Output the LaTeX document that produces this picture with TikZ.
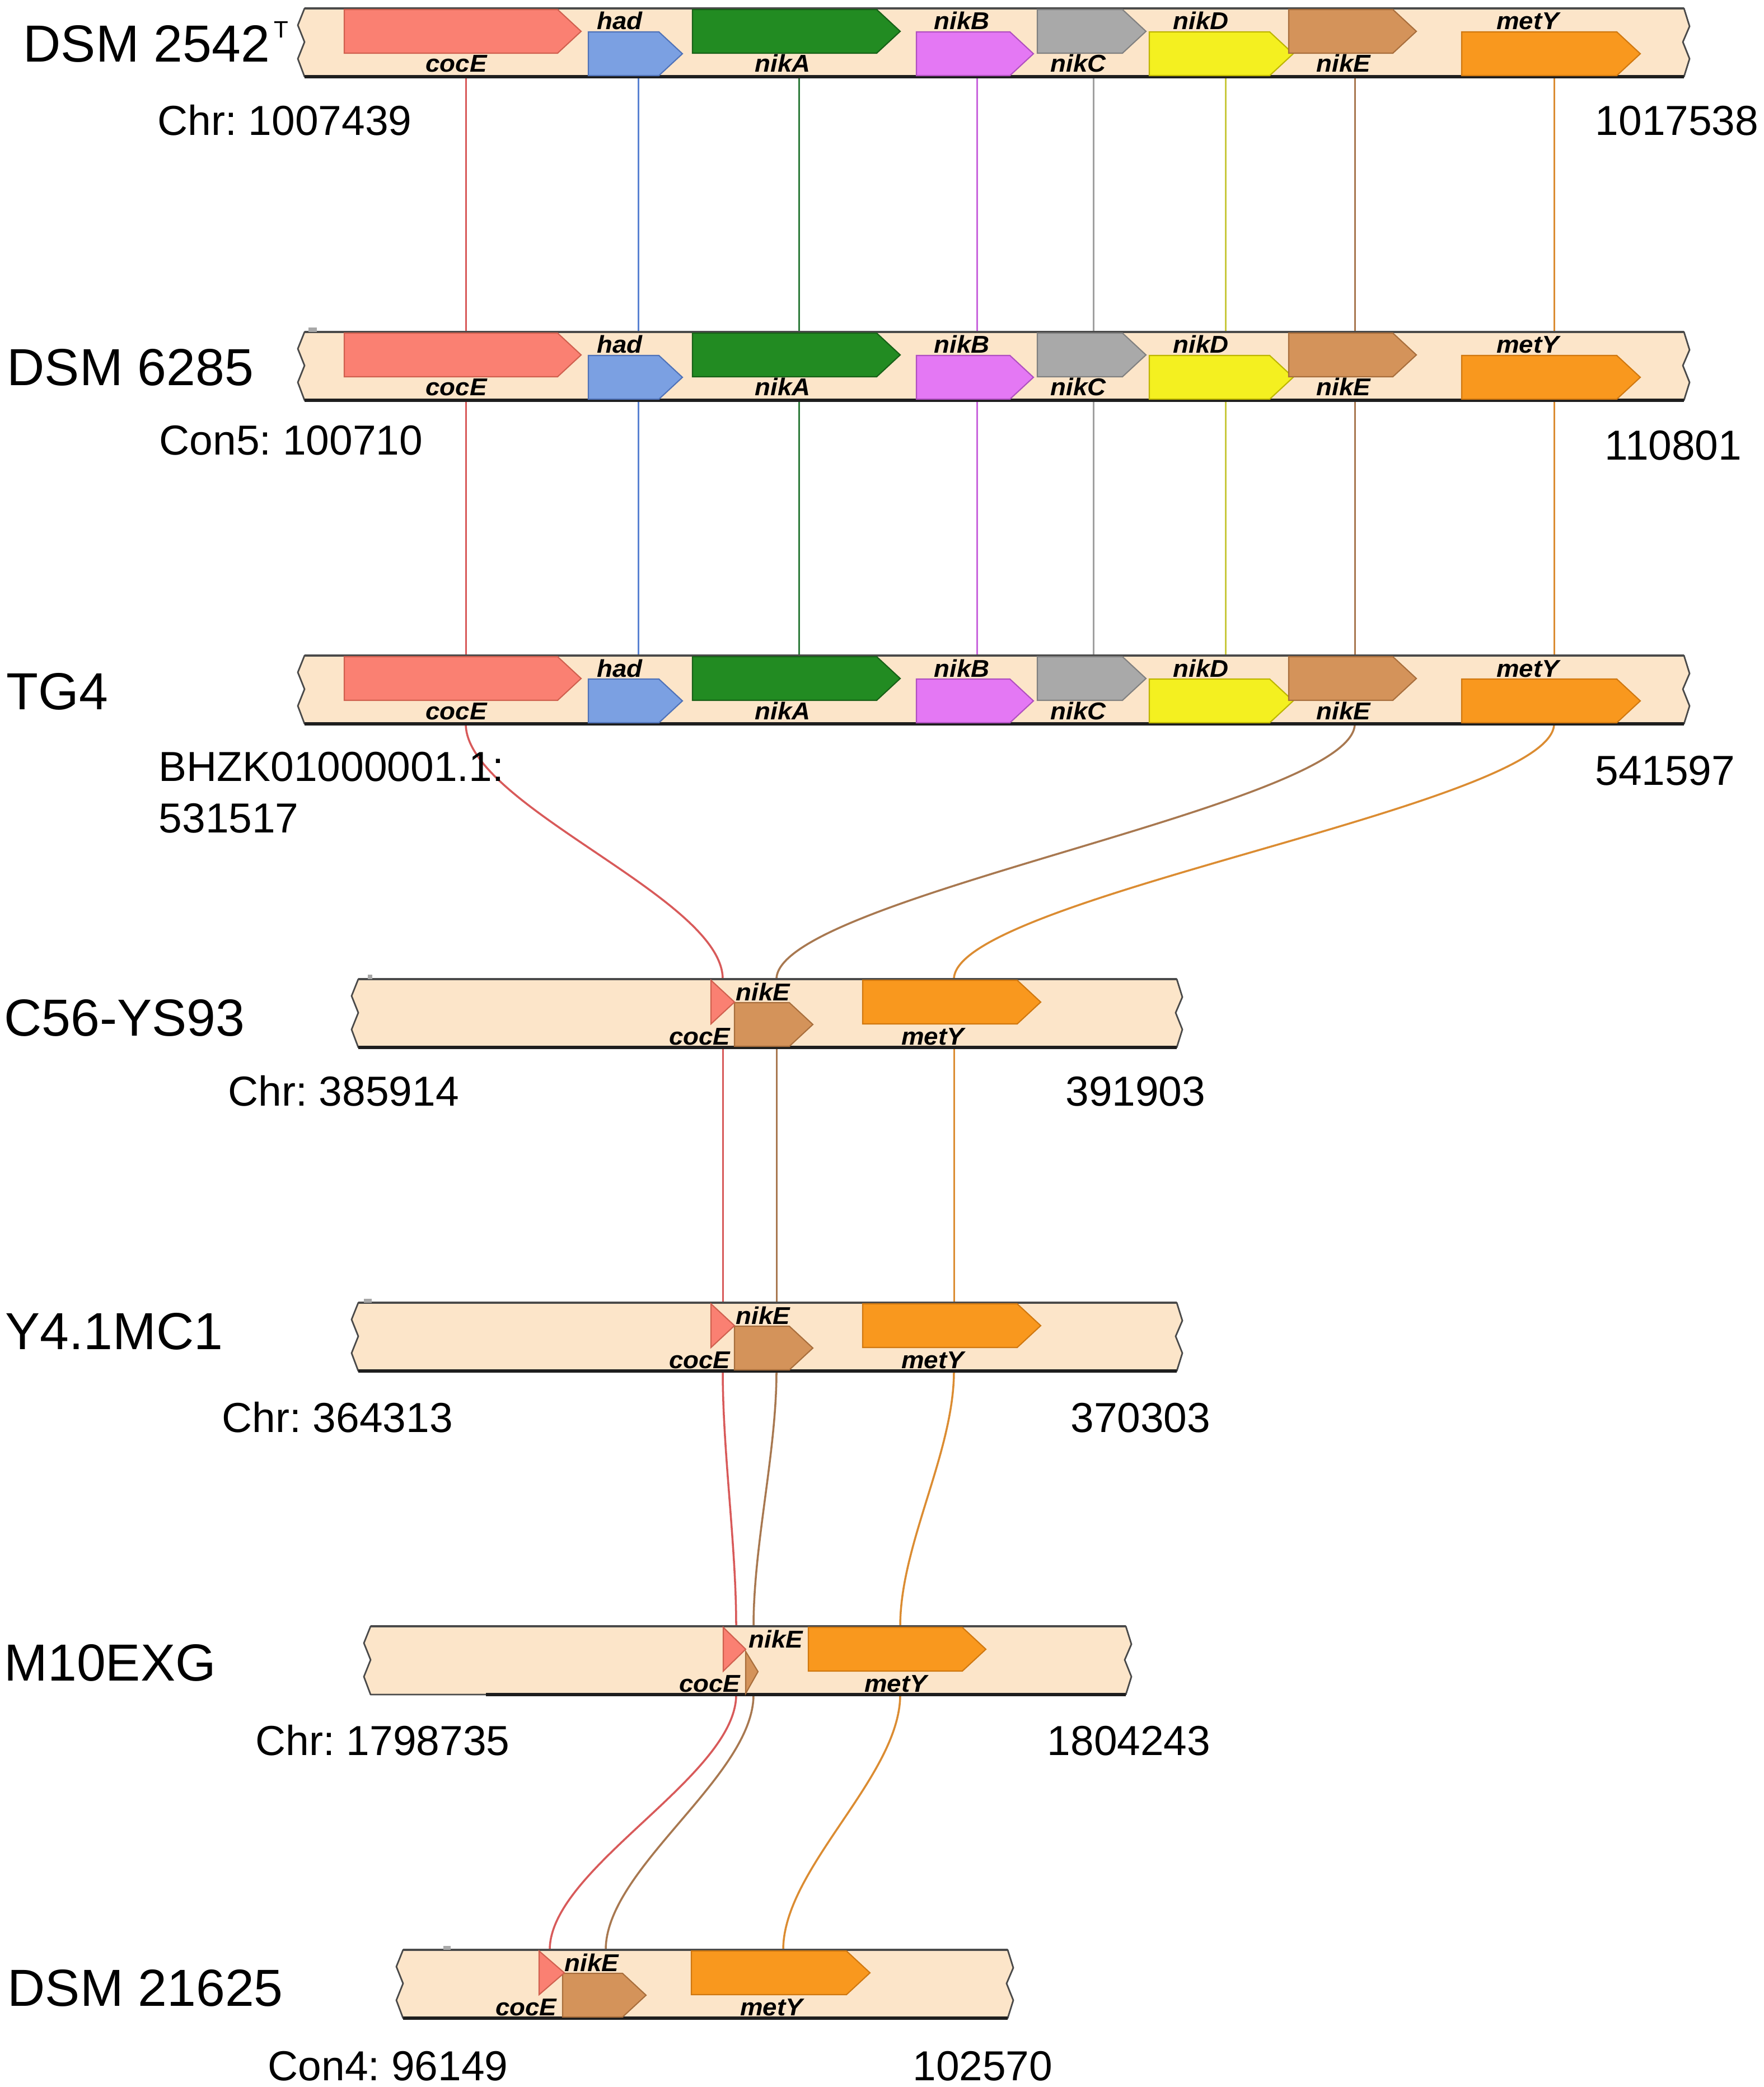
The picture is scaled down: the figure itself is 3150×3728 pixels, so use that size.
\documentclass[tikz,border=0pt]{standalone}
\usepackage{fontspec}
\setmainfont{Liberation Sans}
\usepackage{graphicx}
\frenchspacing
\definecolor{barc}{HTML}{FCE5C9}
\definecolor{bared}{HTML}{4A4A4A}
\definecolor{barbot}{HTML}{1E1E1E}
\definecolor{tickc}{HTML}{A8A8A8}
\definecolor{fcocE}{HTML}{FA8072}\definecolor{dcocE}{HTML}{D0604F}\definecolor{lcocE}{HTML}{D85A5A}
\definecolor{fhad}{HTML}{7BA0E2}\definecolor{dhad}{HTML}{4F72B8}\definecolor{lhad}{HTML}{5A82D2}
\definecolor{fnikA}{HTML}{228B22}\definecolor{dnikA}{HTML}{176017}\definecolor{lnikA}{HTML}{2D7A3A}
\definecolor{fnikB}{HTML}{E478F4}\definecolor{dnikB}{HTML}{B050C0}\definecolor{lnikB}{HTML}{C864DC}
\definecolor{fnikC}{HTML}{A9A9A9}\definecolor{dnikC}{HTML}{808080}\definecolor{lnikC}{HTML}{A0A0A0}
\definecolor{fnikD}{HTML}{F4F020}\definecolor{dnikD}{HTML}{BDB500}\definecolor{lnikD}{HTML}{C8C83C}
\definecolor{fnikE}{HTML}{D4935A}\definecolor{dnikE}{HTML}{A86E3C}\definecolor{lnikE}{HTML}{A87850}
\definecolor{fmetY}{HTML}{F9981E}\definecolor{dmetY}{HTML}{D07810}\definecolor{lmetY}{HTML}{DB8C32}
\newcommand{\gl}[1]{\scalebox{1}[0.95]{#1}}
% bar: L, R, top, start of thick bottom line
\newcommand{\trackbar}[4]{%
  \draw[fill=barc, draw=bared, line width=0.8pt, line join=round]
    (#1,#3) -- (#2,#3) -- (#2+10,#3+32) -- (#2-2,#3+60) -- (#2+10,#3+90) -- (#2,#3+122)
    -- (#1,#3+122) -- (#1-12,#3+90) -- (#1,#3+60) -- (#1-12,#3+30) -- cycle;
  \draw[line width=1.1pt, bared] (#1,#3) -- (#2,#3);
  \draw[line width=1.7pt, barbot] (#4,#3+122) -- (#2,#3+122);}
% upper-lane gene: x1, x2, top, style
\newcommand{\geneU}[4]{\draw[#4] (#1,#3+2) -- (#2-42,#3+2) -- (#2,#3+41) -- (#2-42,#3+80) -- (#1,#3+80) -- cycle;}
\newcommand{\geneL}[4]{\draw[#4] (#1,#3+42) -- (#2-42,#3+42) -- (#2,#3+81) -- (#2-42,#3+120) -- (#1,#3+120) -- cycle;}
\newcommand{\triU}[4]{\draw[#4] (#1,#3+2) -- (#2,#3+41) -- (#1,#3+80) -- cycle;}
\begin{document}
\begin{tikzpicture}[x=0.01cm, y=-0.01cm,
  gcocE/.style={fill=fcocE, draw=dcocE, line width=0.6pt},
  ghad/.style={fill=fhad, draw=dhad, line width=0.6pt},
  gnikA/.style={fill=fnikA, draw=dnikA, line width=0.6pt},
  gnikB/.style={fill=fnikB, draw=dnikB, line width=0.6pt},
  gnikC/.style={fill=fnikC, draw=dnikC, line width=0.6pt},
  gnikD/.style={fill=fnikD, draw=dnikD, line width=0.6pt},
  gnikE/.style={fill=fnikE, draw=dnikE, line width=0.6pt},
  gmetY/.style={fill=fmetY, draw=dmetY, line width=0.6pt},
  glab/.style={font=\fontsize{13}{15}\selectfont\bfseries\itshape, inner sep=0pt, anchor=base},
  sname/.style={font=\fontsize{26.5}{30}\selectfont, inner sep=0pt, anchor=base west},
  crdl/.style={font=\fontsize{21.3}{24}\selectfont, inner sep=0pt, anchor=base west},
  crdr/.style={font=\fontsize{21.3}{24}\selectfont, inner sep=0pt, anchor=base east},
  link/.style={line width=0.85pt},
  clink/.style={line width=1pt}]
\useasboundingbox[fill=white] (0,0) rectangle (3150,3728);

% ---------- coordinates of connector ends ----------
\foreach \k/\t in {1/15,2/593,3/1171}{
  \foreach \g/\x in {cocE/832,had/1140,nikA/1427,nikB/1745,nikC/1953,nikD/2189,nikE/2420,metY/2776}{
    \coordinate (t\k-\g-t) at (\x,\t);
    \coordinate (t\k-\g-b) at (\x,\t+122);
  }
}
\foreach \k/\t in {4/1749,5/2327}{
  \foreach \g/\x in {cocE/1291,nikE/1387,metY/1704}{
    \coordinate (t\k-\g-t) at (\x,\t);
    \coordinate (t\k-\g-b) at (\x,\t+122);
  }
}
\foreach \g/\x in {cocE/1315,nikE/1346,metY/1608}{
  \coordinate (t6-\g-t) at (\x,2905);
  \coordinate (t6-\g-b) at (\x,3027);
}
\foreach \g/\x in {cocE/982,nikE/1082,metY/1399}{
  \coordinate (t7-\g-t) at (\x,3483);
  \coordinate (t7-\g-b) at (\x,3605);
}

% ---------- connectors ----------
\foreach \g in {cocE,had,nikA,nikB,nikC,nikD,nikE,metY}{
  \draw[link, l\g] (t1-\g-b) -- (t2-\g-t);
  \draw[link, l\g] (t2-\g-b) -- (t3-\g-t);
}
\foreach \g in {cocE,nikE,metY}{
  \draw[clink, l\g] (t3-\g-b) .. controls +(0,146) and +(0,-146) .. (t4-\g-t);
  \draw[link, l\g] (t4-\g-b) -- (t5-\g-t);
  \draw[clink, l\g] (t5-\g-b) .. controls +(0,146) and +(0,-146) .. (t6-\g-t);
  \draw[clink, l\g] (t6-\g-b) .. controls +(0,146) and +(0,-146) .. (t7-\g-t);
}

% ---------- tracks 1-3 ----------
\foreach \k/\t in {1/15,2/593,3/1171}{
  \trackbar{544}{3008}{\t}{544}
  \geneU{615}{1038}{\t}{gcocE}
  \geneL{1051}{1219}{\t}{ghad}
  \geneU{1237}{1608}{\t}{gnikA}
  \geneL{1637}{1846}{\t}{gnikB}
  \geneU{1853}{2047}{\t}{gnikC}
  \geneL{2053}{2310}{\t}{gnikD}
  \geneU{2302}{2530}{\t}{gnikE}
  \geneL{2611}{2930}{\t}{gmetY}
  \node[glab] (l\k-cocE) at (815,\t+114) {\gl{cocE}};
  \node[glab] (l\k-had) at (1107,\t+38) {\gl{had}};
  \node[glab] (l\k-nikA) at (1398,\t+114) {\gl{nikA}};
  \node[glab] (l\k-nikB) at (1718,\t+38) {\gl{nikB}};
  \node[glab] (l\k-nikC) at (1926,\t+114) {\gl{nikC}};
  \node[glab] (l\k-nikD) at (2145,\t+38) {\gl{nikD}};
  \node[glab] (l\k-nikE) at (2400,\t+114) {\gl{nikE}};
  \node[glab] (l\k-metY) at (2729,\t+38) {\gl{metY}};
}
\fill[tickc] (551,585) rectangle (566,593);

% ---------- tracks 4-5 ----------
\foreach \k/\t in {4/1749,5/2327}{
  \trackbar{640}{2102}{\t}{640}
  \geneL{1312}{1452}{\t}{gnikE}
  \triU{1270}{1312}{\t}{gcocE}
  \geneU{1541}{1859}{\t}{gmetY}
  \node[glab, anchor=base east] (l\k-cocE) at (1305,\t+117) {\gl{cocE}};
  \node[glab, anchor=base west] (l\k-nikE) at (1314,\t+38) {\gl{nikE}};
  \node[glab] (l\k-metY) at (1666,\t+117) {\gl{metY}};
}
\fill[tickc] (657,1741) rectangle (665,1749);
\fill[tickc] (650,2320) rectangle (664,2327);

% ---------- track 6 ----------
\trackbar{662}{2011}{2905}{868}
\draw[gnikE] (1332,2950) -- (1354,2986) -- (1332,3025) -- cycle;
\triU{1292}{1332}{2905}{gcocE}
\geneU{1444}{1761}{2905}{gmetY}
\node[glab, anchor=base east] (l6-cocE) at (1323,3022) {\gl{cocE}};
\node[glab, anchor=base west] (l6-nikE) at (1337,2943) {\gl{nikE}};
\node[glab] (l6-metY) at (1600,3022) {\gl{metY}};

% ---------- track 7 ----------
\trackbar{720}{1800}{3483}{720}
\geneL{1005}{1154}{3483}{gnikE}
\triU{963}{1008}{3483}{gcocE}
\geneU{1235}{1554}{3483}{gmetY}
\node[glab, anchor=base east] (l7-cocE) at (995,3600) {\gl{cocE}};
\node[glab, anchor=base west] (l7-nikE) at (1008,3521) {\gl{nikE}};
\node[glab] (l7-metY) at (1378,3600) {\gl{metY}};
\fill[tickc] (792,3476) rectangle (805,3483);

% ---------- strain names ----------
\node[sname] (n1) at (41,111) {DSM 2542\hspace{2pt}\raisebox{12.5pt}{\fontsize{12}{12}\selectfont T}};
\node[sname] (n2) at (12,689) {DSM 6285};
\node[sname] (n3) at (11,1267) {TG4};
\node[sname] (n4) at (7,1850) {C56-YS93};
\node[sname] (n5) at (9,2410) {Y4.1MC1};
\node[sname] (n6) at (7,3002) {M10EXG};
\node[sname] (n7) at (13,3583) {DSM 21625};

% ---------- coordinates ----------
\node[crdl] (c1l) at (281,242) {Chr: 1007439};
\node[crdr] (c1r) at (3142,242) {1017538};
\node[crdl] (c2l) at (284,813) {Con5: 100710};
\node[crdr] (c2r) at (3112,822) {110801};
\node[crdl] (c3l) at (283,1395) {BHZK01000001.1:};
\node[crdl] (c3m) at (283,1487) {531517};
\node[crdr] (c3r) at (3100,1402) {541597};
\node[crdl] (c4l) at (407,1975) {Chr: 385914};
\node[crdr] (c4r) at (2154,1975) {391903};
\node[crdl] (c5l) at (396,2558) {Chr: 364313};
\node[crdr] (c5r) at (2163,2558) {370303};
\node[crdl] (c6l) at (456,3135) {Chr: 1798735};
\node[crdr] (c6r) at (2163,3135) {1804243};
\node[crdl] (c7l) at (478,3716) {Con4: 96149};
\node[crdr] (c7r) at (1881,3716) {102570};
\end{tikzpicture}
\end{document}
